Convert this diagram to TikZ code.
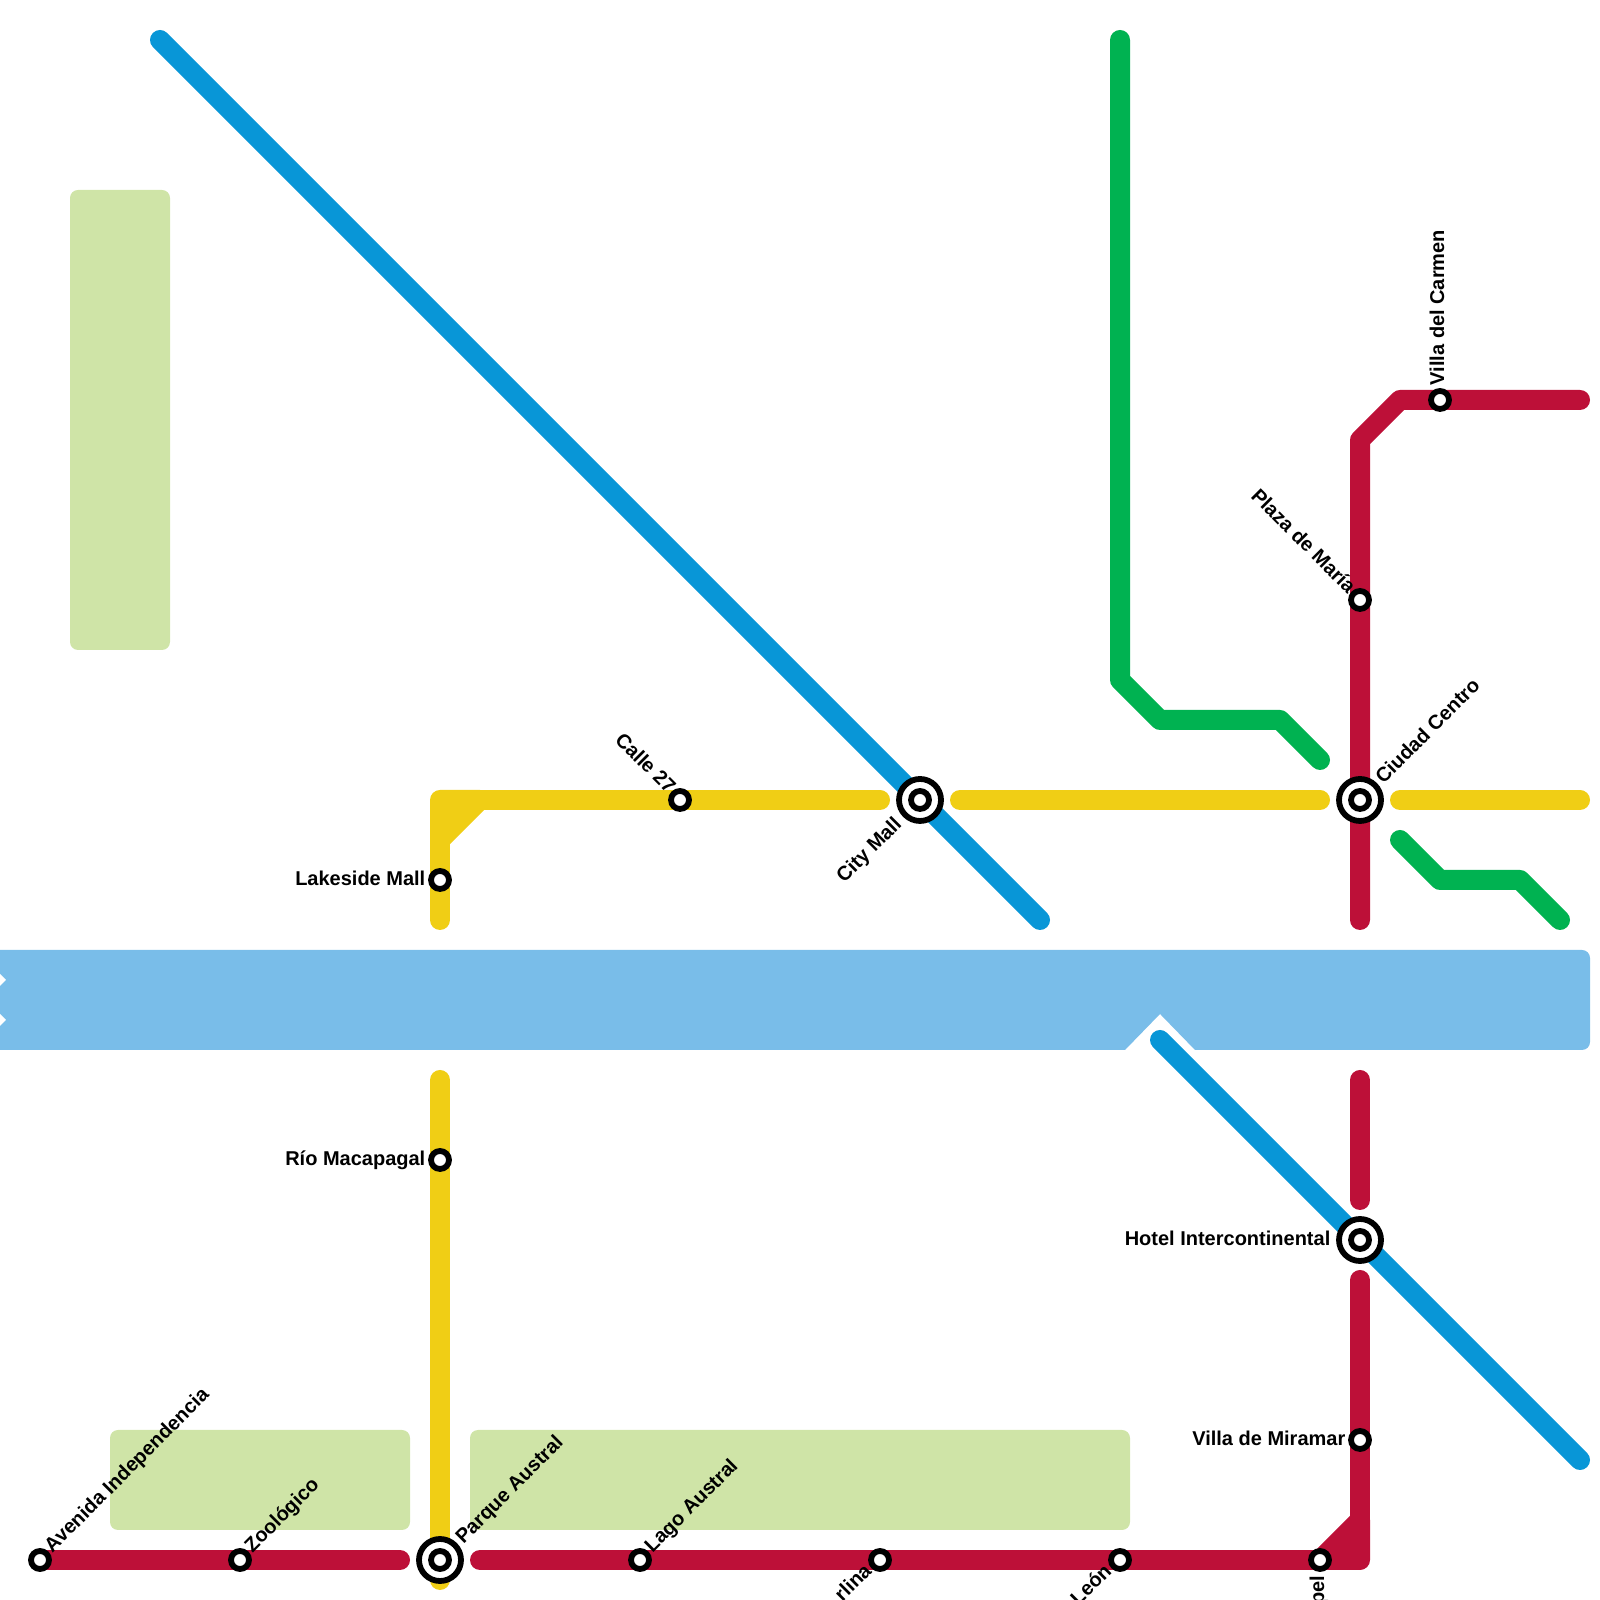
\documentclass[tikz,border=0pt]{standalone}
\usepackage{fontspec}
\usepackage{xcolor}
\usepackage{tikz}
\usetikzlibrary{backgrounds}
\setmainfont{Liberation Sans}
\definecolor{linered}{HTML}{BD1038}
\definecolor{lineyellow}{HTML}{F0CE15}
\definecolor{linegreen}{HTML}{00B251}
\definecolor{lineblue}{HTML}{0896D7}
\definecolor{riverblue}{HTML}{79BDE9}
\definecolor{parkgreen}{HTML}{CFE4A7}

\begin{document}
\begin{tikzpicture}[
  park/.style={fill=parkgreen,rounded corners=0.8mm},
  track/.style={line width=2mm,line cap=round,line join=round},
  stop/.style={circle,draw=black,fill=white,line width=0.58mm,minimum size=1.8mm,inner sep=0pt},
  hub/.style={circle,draw=black,fill=white,line width=0.58mm,minimum size=4.2mm,inner sep=0pt,
    path picture={\draw[line width=0.58mm] (0,0) circle (0.09);}},
  lbl/.style={font=\fontsize{5.69pt}{7pt}\selectfont\bfseries,inner sep=0pt,text=black},
  labne/.style={xshift=1.2mm,yshift=0.6mm,rotate=45,anchor=base west},
  hubne/.style={xshift=2.3mm,yshift=1.5mm,rotate=45,anchor=base west},
  labnw/.style={xshift=-1.2mm,yshift=0.5mm,rotate=-45,anchor=base east},
  labsw/.style={xshift=-0.7mm,yshift=-1.2mm,rotate=45,anchor=base east},
  hubsw/.style={xshift=-1.7mm,yshift=-2.5mm,rotate=45,anchor=base east},
  labw/.style={xshift=-1.4mm,yshift=-0.6mm,anchor=base east},
  hubw/.style={xshift=-2.9mm,yshift=-0.6mm,anchor=base east},
  labn/.style={xshift=0.4mm,yshift=1.4mm,rotate=90,anchor=base west},
  labs/.style={xshift=0.4mm,yshift=-1.5mm,rotate=90,anchor=base east}]

  \useasboundingbox (0,0) rectangle (16,16);

  % stations
  \node[stop] (avenida) at (0.4,0.4) {};
  \node[stop] (zoologico) at (2.4,0.4) {};
  \node[hub] (parque) at (4.4,0.4) {};
  \node[stop] (lago) at (6.4,0.4) {};
  \node[stop] (rlina) at (8.8,0.4) {};
  \node[stop] (leon) at (11.2,0.4) {};
  \node[stop] (pel) at (13.2,0.4) {};
  \node[stop] (miramar) at (13.6,1.6) {};
  \node[hub] (hotel) at (13.6,3.6) {};
  \node[stop] (macapagal) at (4.4,4.4) {};
  \node[stop] (lakeside) at (4.4,7.2) {};
  \node[stop] (calle) at (6.8,8) {};
  \node[hub] (citymall) at (9.2,8) {};
  \node[hub] (centro) at (13.6,8) {};
  \node[stop] (plaza) at (13.6,10) {};
  \node[stop] (carmen) at (14.4,12) {};

  % line ends and bends
  \coordinate (yA) at (8.8,8);
  \coordinate (yB) at (4.8,8);
  \coordinate (yC) at (4.4,8);
  \coordinate (yD) at (4.4,7.6);
  \coordinate (yE) at (4.4,6.8);
  \coordinate (yF) at (9.6,8);
  \coordinate (yG) at (13.2,8);
  \coordinate (yH) at (14,8);
  \coordinate (yI) at (15.8,8);
  \coordinate (yJ) at (4.4,5.2);
  \coordinate (yK) at (4.4,0.2);
  \coordinate (rA) at (4,0.4);
  \coordinate (rB) at (4.8,0.4);
  \coordinate (rC) at (13.6,0.4);
  \coordinate (rD) at (13.6,0.8);
  \coordinate (rE) at (13.6,3.2);
  \coordinate (rF) at (13.6,4);
  \coordinate (rG) at (13.6,5.2);
  \coordinate (rH) at (13.6,6.8);
  \coordinate (rI) at (13.6,11.6);
  \coordinate (rJ) at (14,12);
  \coordinate (rK) at (15.8,12);
  \coordinate (bA) at (1.6,15.6);
  \coordinate (bB) at (10.4,6.8);
  \coordinate (bC) at (11.6,5.6);
  \coordinate (bD) at (15.8,1.4);
  \coordinate (gA) at (11.2,15.6);
  \coordinate (gB) at (11.2,9.2);
  \coordinate (gC) at (11.6,8.8);
  \coordinate (gD) at (12.8,8.8);
  \coordinate (gE) at (13.2,8.4);
  \coordinate (gF) at (14,7.6);
  \coordinate (gG) at (14.4,7.2);
  \coordinate (gH) at (15.2,7.2);
  \coordinate (gI) at (15.6,6.8);

  \begin{scope}[on background layer]
    % water and parks
    \fill[riverblue] (0,6.5) [rounded corners=0.8mm] -- (15.9,6.5) -- (15.9,5.5) -- (15.7,5.5)
      [sharp corners] -- (11.95,5.5) -- (11.6,5.86) -- (11.25,5.5) -- (0,5.5) -- cycle;
    \fill[white] (0,6.26) -- (0.06,6.2) -- (0,6.14) -- cycle;
    \fill[white] (0,5.86) -- (0.06,5.8) -- (0,5.74) -- cycle;
    \fill[park] (0.7,9.5) rectangle (1.7,14.1);
    \fill[park] (1.1,0.7) rectangle (4.1,1.7);
    \fill[park] (4.7,0.7) rectangle (11.3,1.7);

    % lines
    \draw[track,lineblue] (bA) -- (citymall.center) -- (bB);
    \draw[track,lineblue] (bC) -- (hotel.center) -- (bD);
    \draw[track,linegreen] (gA) -- (gB) -- (gC) -- (gD) -- (gE);
    \draw[track,linegreen] (gF) -- (gG) -- (gH) -- (gI);
    \draw[track,lineyellow] (yA) -- (calle.center) -- (yB);
    \draw[track,lineyellow,fill=lineyellow] (yB) -- (yC) -- (yD) -- cycle;
    \draw[track,lineyellow] (yD) -- (lakeside.center) -- (yE);
    \draw[track,lineyellow] (yF) -- (yG);
    \draw[track,lineyellow] (yH) -- (yI);
    \draw[track,lineyellow] (yJ) -- (macapagal.center) -- (parque.center) -- (yK);
    \draw[track,linered] (avenida.center) -- (zoologico.center) -- (rA);
    \draw[track,linered] (rB) -- (lago.center) -- (rlina.center) -- (leon.center) -- (pel.center);
    \draw[track,linered,fill=linered] (pel.center) -- (rC) -- (rD) -- cycle;
    \draw[track,linered] (rD) -- (miramar.center) -- (rE);
    \draw[track,linered] (rF) -- (rG);
    \draw[track,linered] (rH) -- (centro.center) -- (plaza.center) -- (rI) -- (rJ) -- (carmen.center) -- (rK);
  \end{scope}

  % labels
  \node[lbl,labne] (lavenida) at (avenida) {Avenida Independencia};
  \node[lbl,labne] (lzoologico) at (zoologico) {Zoológico};
  \node[lbl,hubne] (lparque) at (parque) {Parque Austral};
  \node[lbl,labne] (llago) at (lago) {Lago Austral};
  \node[lbl,labsw] (lrlina) at (rlina) {rlina};
  \node[lbl,labsw] (lleon) at (leon) {León};
  \node[lbl,labs] (lpel) at (pel) {pel};
  \node[lbl,labw] (lmiramar) at (miramar) {Villa de Miramar};
  \node[lbl,hubw] (lhotel) at (hotel) {Hotel Intercontinental};
  \node[lbl,labw] (lmacapagal) at (macapagal) {Río Macapagal};
  \node[lbl,labw] (llakeside) at (lakeside) {Lakeside Mall};
  \node[lbl,labnw] (lcalle) at (calle) {Calle 27};
  \node[lbl,hubsw] (lcitymall) at (citymall) {City Mall};
  \node[lbl,hubne] (lcentro) at (centro) {Ciudad Centro};
  \node[lbl,labnw] (lplaza) at (plaza) {Plaza de María};
  \node[lbl,labn] (lcarmen) at (carmen) {Villa del Carmen};
\end{tikzpicture}
\end{document}
